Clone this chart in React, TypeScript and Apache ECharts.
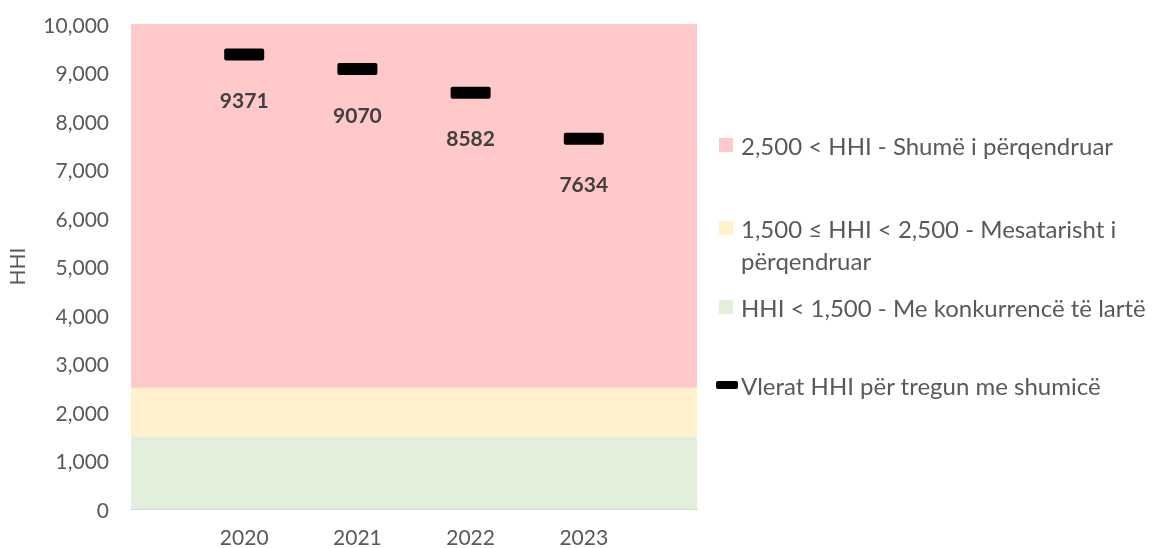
import React, { useEffect, useRef } from "react";
import * as echarts from "echarts";

const categories = ["", "2020", "2021", "2022", "2023", ""];
const hhiValues: (number | null)[] = [null, 9371, 9070, 8582, 7634, null];
const greenBand = [1500, 1500, 1500, 1500, 1500, 1500];
const yellowBand = [1000, 1000, 1000, 1000, 1000, 1000];
const pinkBand = [7500, 7500, 7500, 7500, 7500, 7500];

const NAME_PINK = "2,500 < HHI - Shumë i përqendruar";
const NAME_YELLOW = "1,500 ≤ HHI < 2,500 - Mesatarisht i\npërqendruar";
const NAME_GREEN = "HHI < 1,500 - Me konkurrencë të lartë";
const NAME_HHI = "Vlerat HHI për tregun me shumicë";

const FONT = "Lato, 'Open Sans', sans-serif";
const DASH =
  "path://M2,0 H38 A2,2 0 0 1 40,2 V10 A2,2 0 0 1 38,12 H2 A2,2 0 0 1 0,10 V2 A2,2 0 0 1 2,0 Z";

export default function App() {
  const ref = useRef<HTMLDivElement>(null);
  useEffect(() => {
    if (!ref.current) return;
    const chart = echarts.init(ref.current, undefined, { renderer: "svg" });
    const legendText = {
      color: "#595959",
      fontSize: 24,
      lineHeight: 28,
      fontFamily: FONT,
      padding: [0, 0, 0, 3],
    };
    const bandSeries = (name: string, data: number[], color: string) => ({
      name,
      type: "line",
      stack: "bands",
      data,
      symbol: "none",
      lineStyle: { width: 0, color },
      itemStyle: { color },
      areaStyle: { color, opacity: 1 },
      silent: true,
      z: 1,
    });
    chart.setOption({
      animation: false,
      grid: { left: 131, right: 456, top: 24, bottom: 39 },
      xAxis: {
        type: "category",
        data: categories,
        boundaryGap: false,
        axisLine: { show: true, lineStyle: { color: "#D9D9D9", width: 1 } },
        axisTick: { show: false },
        axisLabel: {
          color: "#595959",
          fontSize: 21,
          lineHeight: 22,
          fontFamily: FONT,
          margin: 16,
          interval: 0,
        },
      },
      yAxis: {
        type: "value",
        min: 0,
        max: 10000,
        interval: 1000,
        name: "HHI",
        nameLocation: "middle",
        nameGap: 104,
        nameTextStyle: { color: "#595959", fontSize: 21, fontFamily: FONT },
        axisLine: { show: false },
        axisTick: { show: false },
        splitLine: { show: false },
        axisLabel: {
          color: "#595959",
          fontSize: 21,
          fontFamily: FONT,
          margin: 22,
          formatter: (v: number) => v.toLocaleString("en-US"),
        },
      },
      legend: [
        {
          data: [{ name: NAME_PINK, icon: "rect" }],
          left: 719,
          top: 131,
          padding: 0,
          itemWidth: 14,
          itemHeight: 14,
          textStyle: legendText,
          selectedMode: false,
        },
        {
          data: [{ name: NAME_YELLOW, icon: "rect" }],
          left: 719,
          top: 180,
          padding: 0,
          itemWidth: 14,
          itemHeight: 14,
          formatter: (n: string) => "\n" + n,
          textStyle: { ...legendText, lineHeight: 32 },
          selectedMode: false,
        },
        {
          data: [{ name: NAME_GREEN, icon: "rect" }],
          left: 719,
          top: 293,
          padding: 0,
          itemWidth: 14,
          itemHeight: 14,
          textStyle: legendText,
          selectedMode: false,
        },
        {
          data: [{ name: NAME_HHI, icon: "roundRect" }],
          left: 716,
          top: 371,
          padding: 0,
          itemWidth: 22,
          itemHeight: 8,
          itemStyle: { color: "#000000", opacity: 1 },
          textStyle: { ...legendText, padding: [0, 0, 0, -2] },
          selectedMode: false,
        },
      ],
      series: [
        bandSeries(NAME_GREEN, greenBand, "#E2EFDA"),
        bandSeries(NAME_YELLOW, yellowBand, "#FFF2CC"),
        bandSeries(NAME_PINK, pinkBand, "#FFC9C9"),
        {
          name: NAME_HHI,
          type: "scatter",
          data: hhiValues,
          symbol: DASH,
          symbolSize: [40, 12],
          itemStyle: { color: "#000000", opacity: 1 },
          z: 5,
          label: {
            show: true,
            position: "inside",
            offset: [0, 45],
            color: "#404040",
            fontSize: 21,
            fontWeight: "bold",
            fontFamily: FONT,
            formatter: (p: any) => String(p.value),
          },
        },
      ],
    });
    return () => chart.dispose();
  }, []);
  return (
    <div
      ref={ref}
      style={{ position: "fixed", top: 0, left: 0, width: 1153, height: 548 }}
    />
  );
}
